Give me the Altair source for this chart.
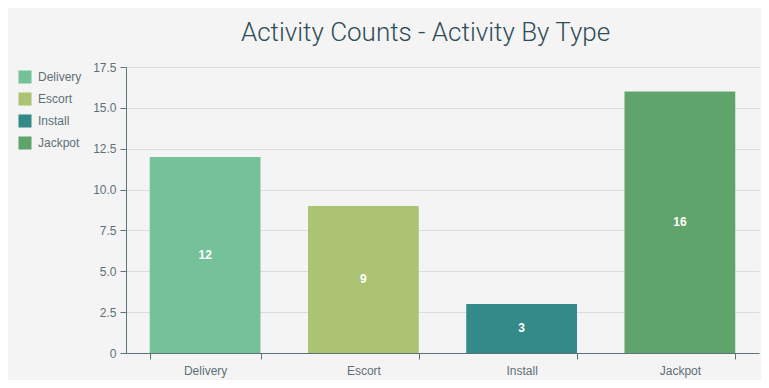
import altair as alt
import pandas as pd

types = ["Delivery", "Escort", "Install", "Jackpot"]
counts = [12, 9, 3, 16]
colors = ["#75c19a", "#abc372", "#348a88", "#5fa56b"]

df = pd.DataFrame({"type": types, "count": counts})
df["half"] = df["count"] / 2

axis_col = "#5d737a"
label_col = "#5e7077"

x = alt.X("type:N", sort=types, title=None,
          scale=alt.Scale(paddingInner=0.3, paddingOuter=0.15),
          axis=alt.Axis(labelAngle=0, tickBand="extent", labelPadding=6, tickSize=6,
                        labelFontSize=12, labelColor=label_col, domainColor=axis_col,
                        tickColor=axis_col, grid=False, labelFont="Liberation Sans"))

bars = alt.Chart(df).mark_bar().encode(
    x=x,
    y=alt.Y("count:Q", title=None,
            scale=alt.Scale(domain=[0, 17.5], nice=False),
            axis=alt.Axis(values=[0, 2.5, 5, 7.5, 10, 12.5, 15, 17.5],
                          labelExpr="datum.value == 0 ? '0' : format(datum.value, '.1f')",
                          labelFontSize=12, labelColor=label_col, domainColor=axis_col,
                          tickColor=axis_col, gridColor="#dcdcdc", tickSize=6,
                          labelPadding=4, labelFont="Liberation Sans")),
    color=alt.Color("type:N", sort=types,
                    scale=alt.Scale(domain=types, range=colors),
                    legend=alt.Legend(title=None, orient="none", legendX=-108, legendY=3,
                                      symbolType="square", symbolSize=170,
                                      symbolStrokeWidth=0, labelFontSize=12,
                                      labelColor=label_col, rowPadding=8,
                                      labelFont="Liberation Sans", labelOffset=6)),
)

text = alt.Chart(df).mark_text(color="white", fontSize=12, fontWeight="bold",
                               font="Liberation Sans").encode(
    x=alt.X("type:N", sort=types),
    y=alt.Y("half:Q"),
    text=alt.Text("count:Q"),
)

chart = (bars + text).properties(
    width=633, height=286,
    background="#f4f4f4",
    autosize=alt.AutoSizeParams(type="none"),
    padding={"left": 118, "top": 59, "right": 2, "bottom": 27},
    title=alt.Title("Activity Counts - Activity By Type", fontSize=26,
                    font="Roboto", fontWeight=300, color="#2f4d57",
                    anchor="middle", dx=-17, offset=15),
).configure_view(stroke=None)

chart.save("out.html", embed_options={"renderer": "svg", "actions": False})
